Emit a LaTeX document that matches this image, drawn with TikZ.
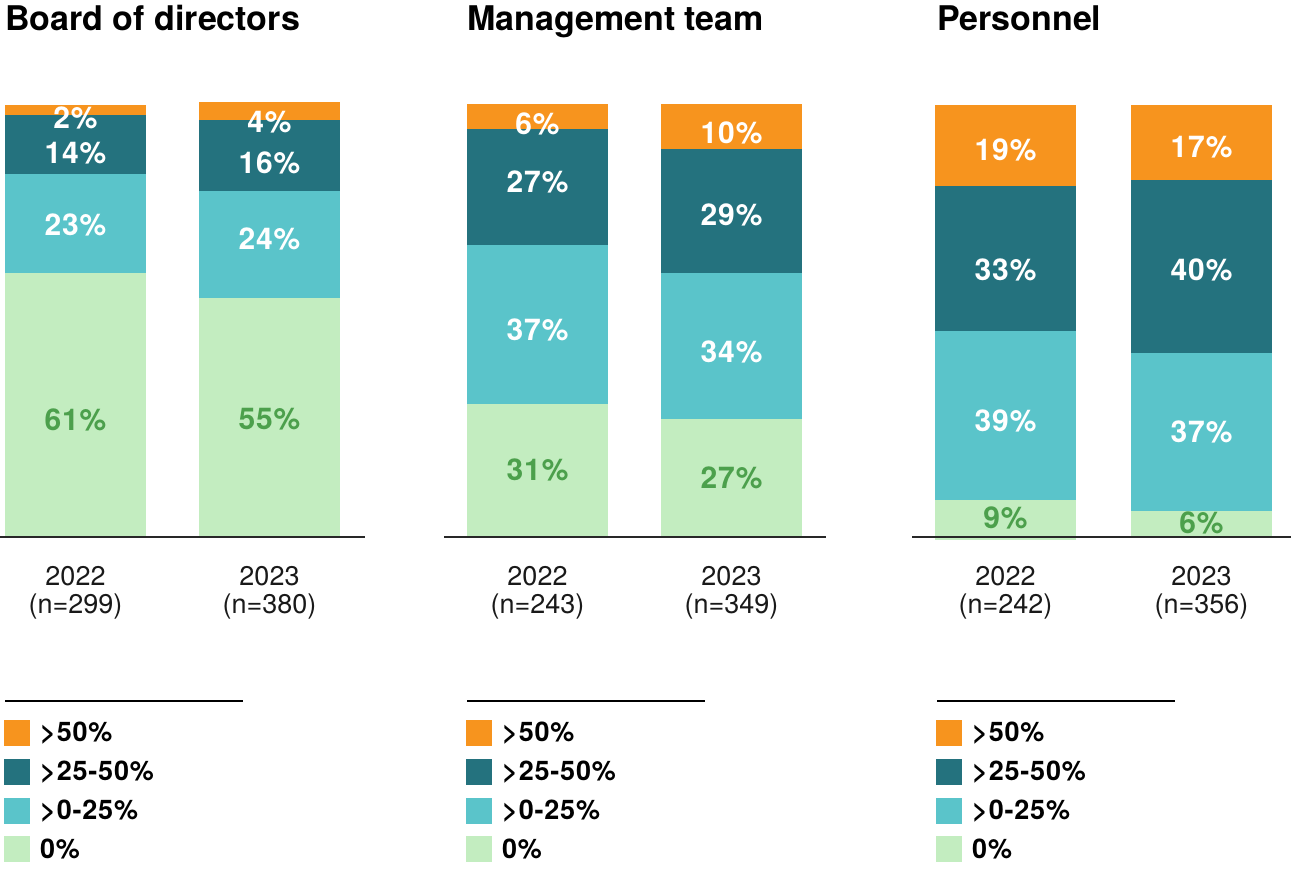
\documentclass[tikz,border=0pt]{standalone}
\usepackage{fontspec}
\setmainfont{TeX Gyre Heros}
\newfontfamily\legfont[LetterSpace=3]{TeX Gyre Heros}
\definecolor{cOr}{RGB}{247,148,30}
\definecolor{cTe}{RGB}{36,114,126}
\definecolor{cCy}{RGB}{90,196,202}
\definecolor{cGr}{RGB}{195,237,192}
\definecolor{cGt}{RGB}{76,160,76}
\definecolor{cAx}{RGB}{40,40,40}
\newcommand{\mybarseg}[4]{\fill[#4] (#1,#2) rectangle ++(141,#3-#2);}
\begin{document}
\begin{tikzpicture}[x=1pt,y=-1pt,
  ttl/.style={anchor=base west,inner sep=0,font=\fontsize{34}{34}\selectfont\bfseries},
  vlab/.style={inner sep=0,text=white,font=\legfont\fontsize{30}{30}\selectfont\bfseries},
  glab/.style={inner sep=0,text=cGt,font=\legfont\fontsize{30}{30}\selectfont\bfseries},
  ylab/.style={anchor=base,inner sep=0,text=black!90,font=\fontsize{27}{27}\selectfont},
  leg/.style={anchor=west,inner sep=0,font=\legfont\fontsize{27}{27}\selectfont\bfseries},
  axis/.style={draw=cAx,line width=1.4pt},
  legline/.style={draw=black,line width=1.3pt}]
\useasboundingbox (0,0) rectangle (1291,879);
% titles
\node[ttl] (t1) at (5,30) {Board of directors};
\node[ttl] (t2) at (467,30) {Management team};
\node[ttl] (t3) at (937,30) {Personnel};
% chart 1
\mybarseg{5}{105}{115}{cOr}
\mybarseg{5}{115}{174}{cTe}
\mybarseg{5}{174}{273}{cCy}
\mybarseg{5}{273}{537}{cGr}
\mybarseg{199}{102}{120}{cOr}
\mybarseg{199}{120}{191}{cTe}
\mybarseg{199}{191}{298}{cCy}
\mybarseg{199}{298}{537}{cGr}
\node[vlab] (a1) at (75.5,118) {2\%};
\node[vlab] (a2) at (75.5,153) {14\%};
\node[vlab] (a3) at (75.5,225) {23\%};
\node[glab] (a4) at (75.5,420) {61\%};
\node[vlab] (b1) at (269.5,122) {4\%};
\node[vlab] (b2) at (269.5,163) {16\%};
\node[vlab] (b3) at (269.5,239) {24\%};
\node[glab] (b4) at (269.5,419) {55\%};
% chart 2
\mybarseg{467}{104}{129}{cOr}
\mybarseg{467}{129}{245}{cTe}
\mybarseg{467}{245}{404}{cCy}
\mybarseg{467}{404}{537}{cGr}
\mybarseg{661}{104}{149}{cOr}
\mybarseg{661}{149}{273}{cTe}
\mybarseg{661}{273}{419}{cCy}
\mybarseg{661}{419}{537}{cGr}
\node[vlab] (c1) at (537.5,124) {6\%};
\node[vlab] (c2) at (537.5,182) {27\%};
\node[vlab] (c3) at (537.5,330) {37\%};
\node[glab] (c4) at (537.5,470) {31\%};
\node[vlab] (d1) at (731.5,132.5) {10\%};
\node[vlab] (d2) at (731.5,215) {29\%};
\node[vlab] (d3) at (731.5,352) {34\%};
\node[glab] (d4) at (731.5,478) {27\%};
% chart 3
\mybarseg{935}{105}{186}{cOr}
\mybarseg{935}{186}{331}{cTe}
\mybarseg{935}{331}{500}{cCy}
\mybarseg{935}{500}{540}{cGr}
\mybarseg{1131}{105}{180}{cOr}
\mybarseg{1131}{180}{353}{cTe}
\mybarseg{1131}{353}{511}{cCy}
\mybarseg{1131}{511}{537}{cGr}
\node[vlab] (e1) at (1005.5,150) {19\%};
\node[vlab] (e2) at (1005.5,269.5) {33\%};
\node[vlab] (e3) at (1005.5,421) {39\%};
\node[glab] (e4) at (1005.5,517.5) {9\%};
\node[vlab] (f1) at (1201.5,147) {17\%};
\node[vlab] (f2) at (1201.5,269.5) {40\%};
\node[vlab] (f3) at (1201.5,432) {37\%};
\node[glab] (f4) at (1201.5,523) {6\%};
% axes
\coordinate (ax1a) at (0,537); \coordinate (ax1b) at (365,537);
\coordinate (ax2a) at (444,537); \coordinate (ax2b) at (826,537);
\coordinate (ax3a) at (912,537); \coordinate (ax3b) at (1291,537);
\draw[axis] (ax1a) -- (ax1b);
\draw[axis] (ax2a) -- (ax2b);
\draw[axis] (ax3a) -- (ax3b);
% year labels
\node[ylab] (y1) at (75.5,585) {2022};
\node[ylab] (n1) at (75.5,613) {(n=299)};
\node[ylab] (y2) at (269.5,585) {2023};
\node[ylab] (n2) at (269.5,613) {(n=380)};
\node[ylab] (y3) at (537.5,585) {2022};
\node[ylab] (n3) at (537.5,613) {(n=243)};
\node[ylab] (y4) at (731.5,585) {2023};
\node[ylab] (n4) at (731.5,613) {(n=349)};
\node[ylab] (y5) at (1005.5,585) {2022};
\node[ylab] (n5) at (1005.5,613) {(n=242)};
\node[ylab] (y6) at (1201.5,585) {2023};
\node[ylab] (n6) at (1201.5,613) {(n=356)};
% legends
\foreach \lx/\nm in {4/L1,466/L2,936/L3}{
  \coordinate (\nm a) at (\lx+1,701);
  \coordinate (\nm b) at (\lx+239,701);
  \draw[legline] (\nm a) -- (\nm b);
  \fill[cOr] (\lx,720) rectangle ++(26,26);
  \fill[cTe] (\lx,759) rectangle ++(26,26);
  \fill[cCy] (\lx,798) rectangle ++(26,26);
  \fill[cGr] (\lx,836) rectangle ++(26,26);
  \node[leg] (\nm o) at (\lx+36,733) {>50\%};
  \node[leg] (\nm t) at (\lx+36,772) {>25-50\%};
  \node[leg] (\nm c) at (\lx+36,811) {>0-25\%};
  \node[leg] (\nm g) at (\lx+36,849) {0\%};
}
\end{tikzpicture}
\end{document}
